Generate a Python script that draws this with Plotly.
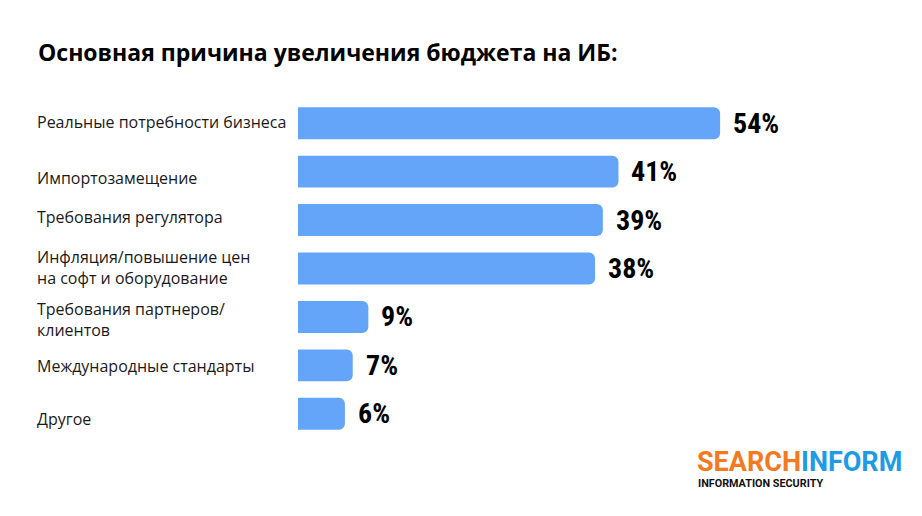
import plotly.graph_objects as go

categories = [
    "Реальные потребности бизнеса",
    "Импортозамещение",
    "Требования регулятора",
    "Инфляция/повышение цен<br>на софт и оборудование",
    "Требования партнеров/<br>клиентов",
    "Международные стандарты",
    "Другое",
]
values = [54, 41, 39, 38, 9, 7, 6]
title_text = "Основная причина увеличения бюджета на ИБ:"

# layout: vertical offset (px, down) of each label from its bar centre
label_dy = [-1.5, 6.5, -3, -1, 2.2, 0.7, 5]

W, H = 922, 516
OFF = 8  # page body margin offset
ML, MR, MT, MB = 298 - OFF, 155 + OFF, 99 - OFF, 78 + OFF

pw = W - ML - MR
ph = H - MT - MB

def px_to_paper(xp, yp):
    xp -= OFF
    yp -= OFF
    return (xp - ML) / pw, (H - MB - yp) / ph

fig = go.Figure()
fig.add_trace(go.Bar(
    x=values,
    y=list(range(len(categories))),
    orientation="h",
    marker=dict(color="#64a5f9", cornerradius=6, line=dict(width=0)),
    width=0.66,
    hoverinfo="skip",
))

annotations = []
for i, (c, v) in enumerate(zip(categories, values)):
    annotations.append(dict(
        x=0, y=i, xref="paper", yref="y", xanchor="left", yanchor="middle",
        xshift=-(ML - (35 - OFF)), yshift=-label_dy[i], text=c, showarrow=False, align="left",
        font=dict(family="Open Sans", size=16, color="#1a1a1a"),
    ))
    annotations.append(dict(
        x=v, y=i, xref="x", yref="y", xanchor="left", yanchor="middle",
        xshift=11, text=f"<span style='font-stretch:condensed'><b>{v}%</b></span>", showarrow=False,
        font=dict(family="Roboto Condensed, Roboto", size=28, color="#000000"),
    ))

tx, ty = px_to_paper(36, 52)
annotations.append(dict(
    x=tx, y=ty, xref="paper", yref="paper", xanchor="left", yanchor="middle",
    text=f"<b>{title_text}</b>", showarrow=False,
    font=dict(family="Open Sans", size=23, color="#000000"),
))
lx, ly = px_to_paper(695, 462)
annotations.append(dict(
    x=lx, y=ly, xref="paper", yref="paper", xanchor="left", yanchor="middle",
    text="<b><span style='color:#f47920'>SEARCH</span><span style='color:#1e9be4'>INFORM</span></b>",
    showarrow=False, font=dict(family="Roboto", size=27),
))
lx2, ly2 = px_to_paper(696, 484)
annotations.append(dict(
    x=lx2, y=ly2, xref="paper", yref="paper", xanchor="left", yanchor="middle",
    text="<b>INFORMATION SECURITY</b>", showarrow=False,
    font=dict(family="Roboto", size=10.8, color="#111111"),
))

fig.update_layout(
    width=W, height=H,
    margin=dict(l=ML, r=MR, t=MT, b=MB),
    paper_bgcolor="white", plot_bgcolor="white",
    showlegend=False,
    xaxis=dict(range=[0, 60], visible=False, fixedrange=True),
    yaxis=dict(range=[len(categories) - 0.5, -0.5], visible=False, fixedrange=True),
    annotations=annotations,
)

fig.write_html("out.html")
